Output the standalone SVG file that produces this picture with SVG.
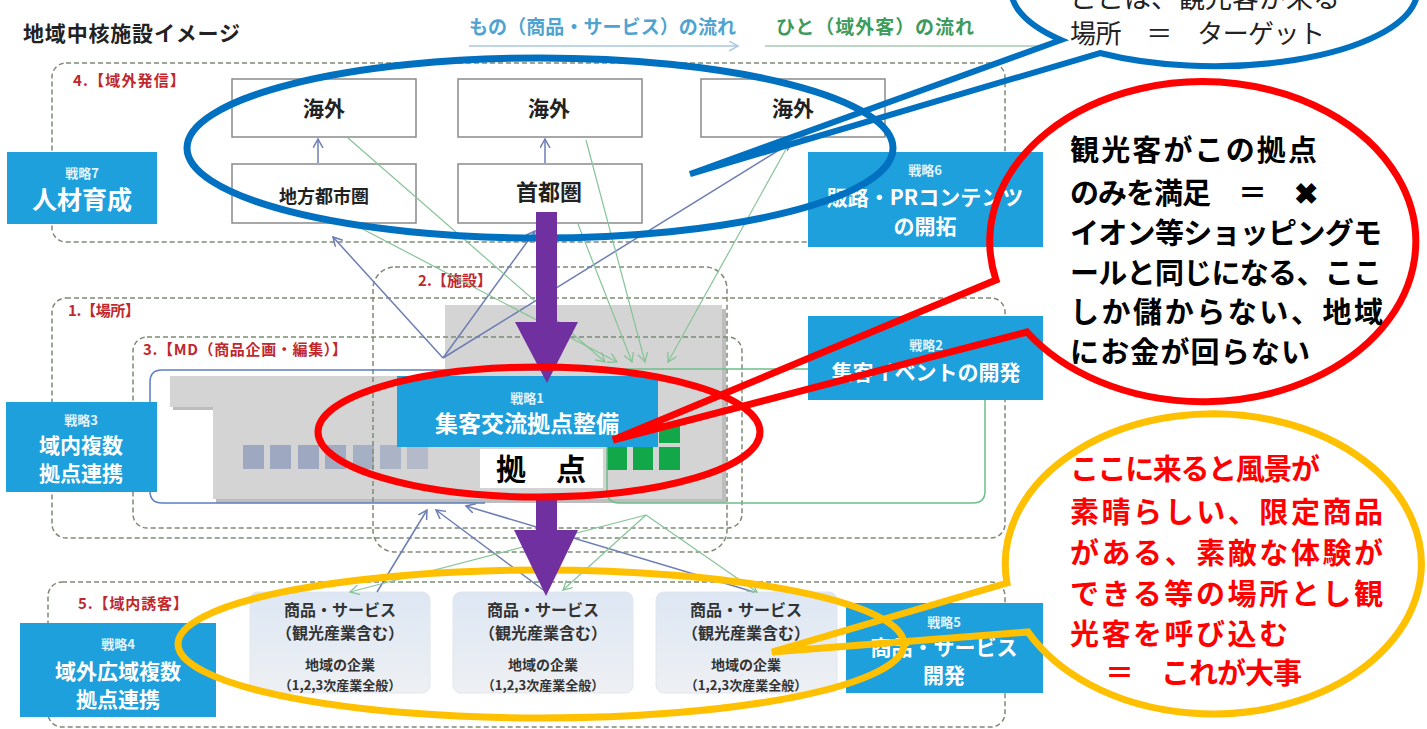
<svg xmlns="http://www.w3.org/2000/svg" width="1427" height="729" viewBox="0 0 1427 729">
<defs>
<style>
text{font-family:'Noto Sans CJK JP','Noto Sans',sans-serif}
.reg{fill:none;stroke:#7d8a74;stroke-width:1.5;stroke-dasharray:5 3}
.rl{font-size:15px;font-weight:bold;fill:#c0282d}
.sb{fill:#1ea0dd}
.st{fill:#fff;font-weight:bold;text-anchor:middle}
.ss{fill:#e3f3fb;font-weight:bold;text-anchor:middle;font-size:13px}
.wb{fill:#fff;stroke:#8a8a8a;stroke-width:1.5}
.bt{fill:#222;font-weight:bold;text-anchor:middle}
.pb{fill:url(#pg);stroke:#e2e6ec;stroke-width:1}
.pt{fill:#333;font-weight:bold;text-anchor:middle}
.bl{stroke:#6c7eb3;stroke-width:1.5;fill:none;marker-end:url(#ab)}
.gl{stroke:#86c496;stroke-width:1.2;fill:none;marker-end:url(#ag)}
.win{fill:#9ea9c1}
.grn{fill:#12a84a}
.cb{fill:#000;font-weight:bold;font-size:29px}
.co{fill:#ff0000;font-weight:bold;font-size:29px}
.pur{fill:#7030a0}
</style>
<linearGradient id="pg" x1="0" y1="0" x2="0" y2="1">
<stop offset="0" stop-color="#dde7f3"/>
<stop offset="1" stop-color="#eef0f3"/>
</linearGradient>
<marker id="ab" markerUnits="userSpaceOnUse" markerWidth="14" markerHeight="14" refX="9" refY="5" orient="auto">
<path d="M0,0 L9,5 L0,10" fill="none" stroke="#6c7eb3" stroke-width="1.5"/>
</marker>
<marker id="ag" markerUnits="userSpaceOnUse" markerWidth="14" markerHeight="14" refX="9" refY="5" orient="auto">
<path d="M0,0 L9,5 L0,10" fill="none" stroke="#86c496" stroke-width="1.3"/>
</marker>
<marker id="alb" markerUnits="userSpaceOnUse" markerWidth="14" markerHeight="14" refX="9" refY="5" orient="auto">
<path d="M0,0 L9,5 L0,10" fill="none" stroke="#a9c7e0" stroke-width="1.5"/>
</marker>
</defs>
<rect width="1427" height="729" fill="#fff"/>

<g id="title">
<text x="23" y="41" font-size="21" font-weight="bold" fill="#222" textLength="217">地域中核施設イメージ</text>
</g>
<g id="legend">
<text x="469" y="34" font-size="19" font-weight="bold" fill="#4fa3d1" textLength="267">もの（商品・サービス）の流れ</text>
<text x="776" y="34" font-size="19" font-weight="bold" fill="#3d9b5c" textLength="198">ひと（域外客）の流れ</text>
<line x1="469" y1="46" x2="738" y2="46" stroke="#a9c7e0" stroke-width="1.5" marker-end="url(#alb)"/>
<line x1="765" y1="46" x2="1040" y2="46" stroke="#a9c8b0" stroke-width="1.5"/>
</g>

<g id="building">
<polygon points="173,379 448,379 448,309 726,309 726,503 216,503 216,410 173,410" fill="#bdbdbd"/>
<polygon points="170,376 445,376 445,305 722,305 722,499 213,499 213,407 170,407" fill="#d4d4d4"/>
<rect class="win" x="243" y="445" width="21" height="24"/>
<rect class="win" x="270" y="445" width="21" height="24"/>
<rect class="win" x="298" y="445" width="21" height="24"/>
<rect class="win" x="325" y="445" width="21" height="24" opacity="0.95"/>
<rect class="win" x="353" y="445" width="21" height="24" opacity="0.85"/>
<rect class="win" x="380" y="445" width="21" height="24" opacity="0.75"/>
<rect class="win" x="407" y="445" width="21" height="24" opacity="0.6"/>
<rect class="grn" x="607" y="447" width="20" height="23"/>
<rect class="grn" x="633" y="447" width="20" height="23"/>
<rect class="grn" x="659" y="447" width="21" height="23"/>
<rect class="grn" x="659" y="423" width="21" height="20"/>
</g>

<g id="region4"><rect class="reg" x="52" y="63" width="953" height="179" rx="14"/><text class="rl" x="73" y="86" textLength="112">4.【域外発信】</text></g>
<g id="region1"><rect class="reg" x="52" y="298" width="953" height="240" rx="14"/><text class="rl" x="68" y="316" textLength="72">1.【場所】</text></g>
<g id="region3"><rect class="reg" x="133" y="337" width="609" height="191" rx="14"/><text class="rl" x="143" y="355" textLength="204">3.【MD（商品企画・編集）】</text></g>
<g id="region2"><rect class="reg" x="373" y="267" width="354" height="285" rx="22"/><text class="rl" x="418" y="286" textLength="74">2.【施設】</text></g>
<g id="region5"><rect class="reg" x="48" y="582" width="957" height="145" rx="14"/><text class="rl" x="78" y="609" textLength="110">5.【域内誘客】</text></g>

<g id="frames">
<path d="M607,370 H162 Q150,370 150,382 V491 Q150,503 162,503 H485" fill="none" stroke="#5b7fbf" stroke-width="1.5"/>
<path d="M607,369 H973 Q985,369 985,381 V491 Q985,503 973,503 H619 Q607,503 607,491 V440" fill="none" stroke="#6dbf8a" stroke-width="1.5"/>
</g>

<g id="kaigai1"><rect class="wb" x="232" y="79" width="184" height="58"/><text class="bt" x="324" y="116" font-size="21">海外</text></g>
<g id="kaigai2"><rect class="wb" x="458" y="79" width="184" height="58"/><text class="bt" x="549" y="116" font-size="21">海外</text></g>
<g id="kaigai3"><rect class="wb" x="701" y="79" width="184" height="58"/><text class="bt" x="793" y="116" font-size="21">海外</text></g>
<g id="chiho"><rect class="wb" x="232" y="164" width="184" height="59"/><text class="bt" x="324" y="203" font-size="18">地方都市圏</text></g>
<g id="shuto"><rect class="wb" x="458" y="164" width="184" height="59"/><text class="bt" x="549" y="200" font-size="22">首都圏</text></g>

<g id="s7"><rect class="sb" x="7" y="152" width="150" height="72"/><text class="ss" x="82" y="178">戦略7</text><text class="st" x="82" y="209" font-size="25">人材育成</text></g>
<g id="s6"><rect class="sb" x="808" y="152" width="235" height="95"/><text class="ss" x="925" y="175">戦略6</text><text class="st" x="925" y="205" font-size="21">販路・PRコンテンツ</text><text class="st" x="925" y="234" font-size="21">の開拓</text></g>
<g id="s2"><rect class="sb" x="808" y="316" width="235" height="84"/><text class="ss" x="926" y="350">戦略2</text><text class="st" x="926" y="380" font-size="21">集客イベントの開発</text></g>
<g id="s3"><rect class="sb" x="6" y="402" width="151" height="90"/><text class="ss" x="81" y="425">戦略3</text><text class="st" x="81" y="453" font-size="21">域内複数</text><text class="st" x="81" y="481" font-size="21">拠点連携</text></g>
<g id="s1"><rect class="sb" x="397" y="376" width="261" height="71"/><text class="ss" x="527" y="403">戦略1</text><text class="st" x="527" y="432" font-size="23">集客交流拠点整備</text></g>
<g id="s4"><rect class="sb" x="20" y="623" width="196" height="94"/><text class="ss" x="118" y="649">戦略4</text><text class="st" x="118" y="679" font-size="21">域外広域複数</text><text class="st" x="118" y="707" font-size="21">拠点連携</text></g>
<g id="s5"><rect class="sb" x="846" y="603" width="197" height="90"/><text class="ss" x="944" y="627">戦略5</text><text class="st" x="944" y="655" font-size="21">商品・サービス</text><text class="st" x="944" y="683" font-size="21">開発</text></g>

<g id="kyoten"><rect x="480" y="449" width="123" height="39" fill="#fff"/><text x="541" y="480" font-size="30" font-weight="bold" fill="#000" text-anchor="middle">拠　点</text></g>

<g id="p1"><rect class="pb" x="250" y="592" width="180" height="101" rx="8"/><text class="pt" x="340" y="616" font-size="16">商品・サービス</text><text class="pt" x="340" y="639" font-size="16">（観光産業含む）</text><text class="pt" x="340" y="670" font-size="14">地域の企業</text><text class="pt" x="340" y="690" font-size="13">（1,2,3次産業全般）</text></g>
<g id="p2"><rect class="pb" x="453" y="592" width="180" height="101" rx="8"/><text class="pt" x="543" y="616" font-size="16">商品・サービス</text><text class="pt" x="543" y="639" font-size="16">（観光産業含む）</text><text class="pt" x="543" y="670" font-size="14">地域の企業</text><text class="pt" x="543" y="690" font-size="13">（1,2,3次産業全般）</text></g>
<g id="p3"><rect class="pb" x="656" y="592" width="181" height="101" rx="8"/><text class="pt" x="746" y="616" font-size="16">商品・サービス</text><text class="pt" x="746" y="639" font-size="16">（観光産業含む）</text><text class="pt" x="746" y="670" font-size="14">地域の企業</text><text class="pt" x="746" y="690" font-size="13">（1,2,3次産業全般）</text></g>

<g id="connectors">
<line class="bl" x1="318" y1="163" x2="318" y2="139"/>
<line class="bl" x1="545" y1="163" x2="545" y2="139"/>
<line class="bl" x1="443" y1="358" x2="333" y2="237"/>
<line class="bl" x1="443" y1="358" x2="535" y2="231"/>
<line class="bl" x1="443" y1="358" x2="792" y2="142"/>
<line class="bl" x1="377" y1="592" x2="427" y2="510"/>
<line class="bl" x1="546" y1="592" x2="436" y2="510"/>
<line class="bl" x1="754" y1="592" x2="466" y2="506"/>
<line class="gl" x1="348" y1="138" x2="605" y2="362"/>
<line class="gl" x1="353" y1="224" x2="617" y2="362"/>
<line class="gl" x1="578" y1="224" x2="632" y2="362"/>
<line class="gl" x1="586" y1="140" x2="645" y2="362"/>
<line class="gl" x1="790" y1="142" x2="668" y2="362"/>
<line class="gl" x1="646" y1="515" x2="350" y2="592"/>
<line class="gl" x1="646" y1="515" x2="563" y2="590"/>
<line class="gl" x1="646" y1="515" x2="757" y2="592"/>
</g>

<g id="highlights">
<ellipse cx="540" cy="148" rx="353" ry="90" fill="none" stroke="#0070c0" stroke-width="7"/>
<ellipse cx="541" cy="644" rx="363" ry="74" fill="none" stroke="#ffc000" stroke-width="7"/>
<polygon class="pur" points="536,212 557,212 557,322 578,322 547,383 515,322 536,322"/>
<polygon class="pur" points="536,494 557,494 557,530 578,530 546,596 514,530 536,530"/>
<ellipse cx="539" cy="432" rx="221" ry="65" fill="none" stroke="#ff0000" stroke-width="7"/>
</g>

<g id="callout-blue">
<path d="M1061,40 L690,174 L1100,53 A203 76 0 1 0 1061,40 Z" fill="none" stroke="#0070c0" stroke-width="6"/>
<text x="1070" y="8" font-size="27" fill="#222">ここは、観光客が来る</text>
<text x="1070" y="43" font-size="26" fill="#222" textLength="255">場所　＝　ターゲット</text>
</g>
<g id="callout-red">
<path d="M996,280 L613,440 L1027,332 A213 160 0 1 0 996,280 Z" fill="none" stroke="#ff0000" stroke-width="7"/>
<text class="cb" x="1070" y="161" textLength="247">観光客がこの拠点</text>
<text class="cb" x="1070" y="204" textLength="248">のみを満足　＝　✖</text>
<text class="cb" x="1070" y="244" textLength="312">イオン等ショッピングモ</text>
<text class="cb" x="1070" y="284" textLength="312">ールと同じになる、ここ</text>
<text class="cb" x="1070" y="323" textLength="313">しか儲からない、地域</text>
<text class="cb" x="1070" y="363" textLength="240">にお金が回らない</text>
</g>
<g id="callout-orange">
<path d="M1007,583 L772,652 L1028,632 A208 150 0 1 0 1007,583 Z" fill="none" stroke="#ffc000" stroke-width="7"/>
<text class="co" x="1070" y="480" textLength="250">ここに来ると風景が</text>
<text class="co" x="1070" y="523" textLength="313">素晴らしい、限定商品</text>
<text class="co" x="1070" y="564" textLength="313">がある、素敵な体験が</text>
<text class="co" x="1070" y="605" textLength="313">できる等の場所とし観</text>
<text class="co" x="1070" y="645" textLength="218">光客を呼び込む</text>
<text class="co" x="1105" y="684" textLength="197">＝　これが大事</text>
</g>
</svg>
